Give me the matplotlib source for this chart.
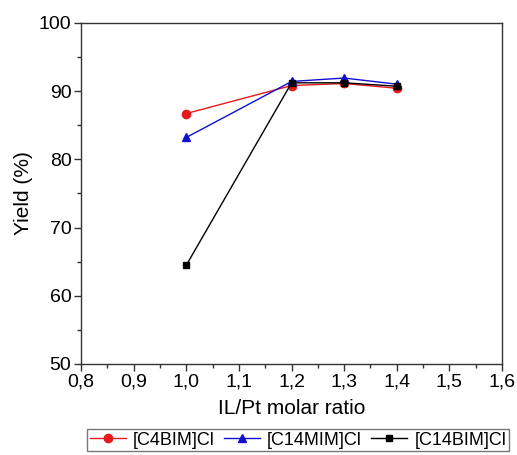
import matplotlib
matplotlib.use("Agg")
import matplotlib.pyplot as plt
from matplotlib.ticker import MultipleLocator, FuncFormatter

plt.rcParams['font.family'] = ['Liberation Sans', 'DejaVu Sans']

ratio = [1.0, 1.2, 1.3, 1.4]
c4bim = [86.7, 90.8, 91.1, 90.4]
c14mim = [83.2, 91.4, 91.9, 91.0]
c14bim = [64.5, 91.2, 91.2, 90.7]
labels = ['[C4BIM]Cl', '[C14MIM]Cl', '[C14BIM]Cl']

fig = plt.figure(figsize=(5.17, 4.55), dpi=100)
ax = fig.add_axes([0.157, 0.2, 0.814, 0.75])

ax.plot(ratio, c4bim, color='#e41a1c', marker='o', markersize=6, lw=1, label=labels[0])
ax.plot(ratio, c14mim, color='#1010d0', marker='^', markersize=6, lw=1, label=labels[1])
ax.plot(ratio, c14bim, color='black', marker='s', markersize=5, lw=1, label=labels[2])

ax.set_xlim(0.8, 1.6)
ax.set_ylim(50, 100)
ax.xaxis.set_major_locator(MultipleLocator(0.1))
ax.xaxis.set_minor_locator(MultipleLocator(0.05))
ax.yaxis.set_major_locator(MultipleLocator(10))
ax.yaxis.set_minor_locator(MultipleLocator(5))
ax.xaxis.set_major_formatter(FuncFormatter(lambda v, p: f"{v:.1f}".replace('.', ',')))
ax.tick_params(which='major', direction='out', length=5, width=1, labelsize=14,
               colors='#333333', labelcolor='black', pad=2)
ax.tick_params(which='minor', direction='out', length=3, width=1, colors='#333333')
for s in ax.spines.values():
    s.set_color('#333333')
    s.set_linewidth(1)

ax.set_xlabel('IL/Pt molar ratio', fontsize=15, labelpad=6)
ax.set_ylabel('Yield (%)', fontsize=15, labelpad=4)

leg = ax.legend(loc='upper center', bbox_to_anchor=(0.515, -0.19), ncol=3, frameon=True,
                fontsize=13, handlelength=2.0, handletextpad=0.4, columnspacing=0.5,
                borderpad=0.15, borderaxespad=0, fancybox=False)
leg.get_frame().set_edgecolor('#555555')
leg.get_frame().set_linewidth(1)

fig.savefig('out.png', dpi=100)
